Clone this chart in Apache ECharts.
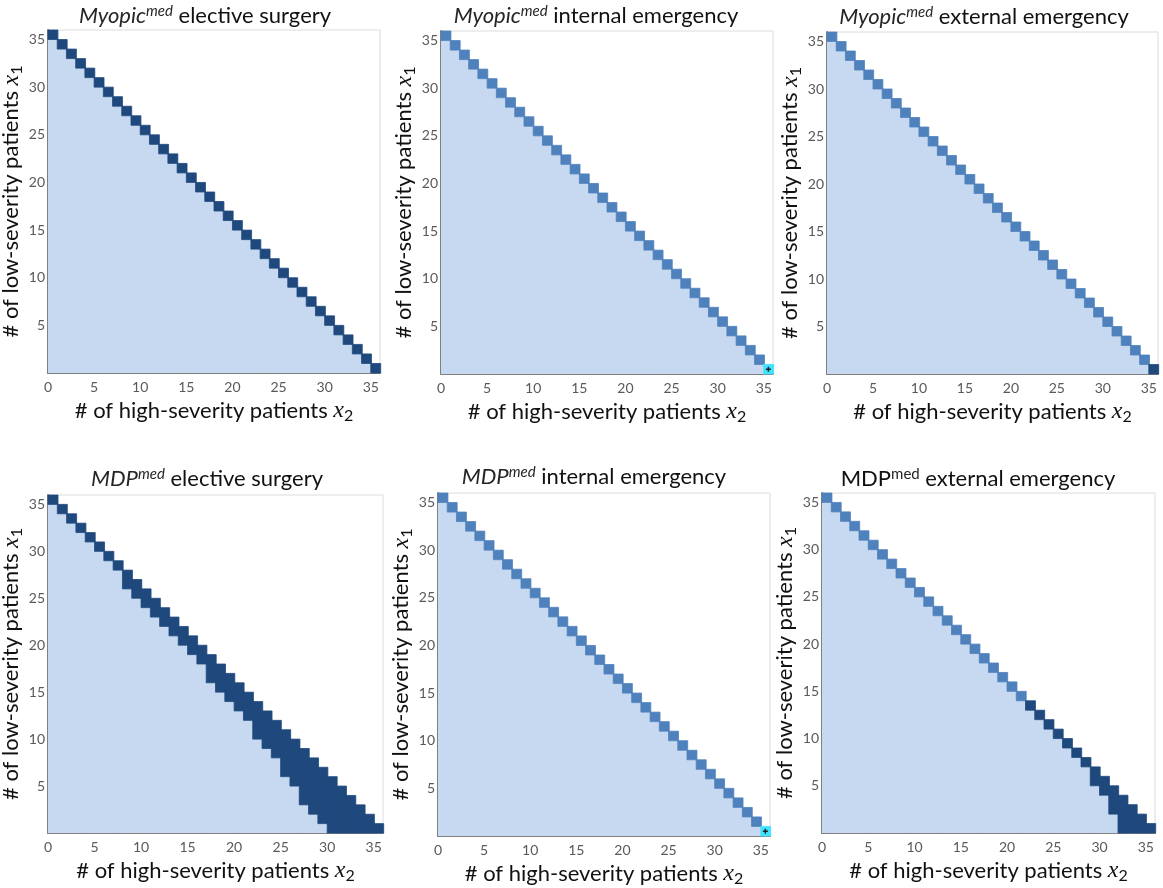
<!DOCTYPE html>
<html><head><meta charset="utf-8">
<script src="https://cdn.jsdelivr.net/npm/echarts@6/dist/echarts.min.js"></script>
<style>html,body{margin:0;padding:0;background:#fff}#chart{width:1163px;height:888px}</style>
</head><body><div id="chart"></div>
<script>
// ---------------- data ----------------
const x2Values = [0,1,2,3,4,5,6,7,8,9,10,11,12,13,14,15,16,17,18,19,20,21,22,23,24,25,26,27,28,29,30,31,32,33,34,35];
const xTickLabels = [0,5,10,15,20,25,30,35];
const yTickLabels = [5,10,15,20,25,30,35];

// lowest x1 index of the coloured (action) band in each x2 column; the band always reaches x1 = 35 - x2
const bandLowDiagonal   = [35,34,33,32,31,30,29,28,27,26,25,24,23,22,21,20,19,18,17,16,15,14,13,12,11,10,9,8,7,6,5,4,3,2,1,0];
const bandLowMdpElective= [35,34,33,32,31,30,29,28,26,25,24,23,22,21,20,19,18,16,15,14,13,12,10,9,8,6,5,3,2,1,0,0,0,0,0,0];
const bandLowMdpExternal= [35,34,33,32,31,30,29,28,27,26,25,24,23,22,21,20,19,18,17,16,15,14,13,12,11,10,9,8,7,5,4,2,0,0,0,0];

// action code of the band in each column: 1 = medium blue, 2 = dark blue, 3 = cyan (marked)
const codeAllDark      = [2,2,2,2,2,2,2,2,2,2,2,2,2,2,2,2,2,2,2,2,2,2,2,2,2,2,2,2,2,2,2,2,2,2,2,2];
const codeInternal     = [1,1,1,1,1,1,1,1,1,1,1,1,1,1,1,1,1,1,1,1,1,1,1,1,1,1,1,1,1,1,1,1,1,1,1,3];
const codeMyopicExt    = [1,1,1,1,1,1,1,1,1,1,1,1,1,1,1,1,1,1,1,1,1,1,1,1,1,1,1,1,1,1,1,1,1,1,1,2];
const codeMdpExternal  = [1,1,1,1,1,1,1,1,1,1,1,1,1,1,1,1,1,1,1,1,1,1,2,2,2,2,2,2,2,2,2,2,2,2,2,2];

const panelTitles = [
  '{it|Myopic}{sup|med}{n| elective surgery}',
  '{it|Myopic}{sup|med}{n| internal emergency}',
  '{it|Myopic}{sup|med}{n| external emergency}',
  '{it|MDP}{sup|med}{n| elective surgery}',
  '{it|MDP}{sup|med}{n| internal emergency}',
  '{n|MDP}{supn|med}{n| external emergency}'
];
const panelBandLow = [bandLowDiagonal, bandLowDiagonal, bandLowDiagonal, bandLowMdpElective, bandLowDiagonal, bandLowMdpExternal];
const panelCodes   = [codeAllDark, codeInternal, codeMyopicExt, codeAllDark, codeInternal, codeMdpExternal];
const xAxisName = '{t|# of high-severity patients }{mx|x}{sub|2}';
const yAxisName = '{t|# of low-severity patients }{mx|x}{sub|1}';

// ---------------- layout / style ----------------
const grids = [
  {left: 48,  top: 30,  width: 332, height: 343},
  {left: 441, top: 31,  width: 332, height: 343},
  {left: 827, top: 32,  width: 331, height: 342},
  {left: 48,  top: 495, width: 335, height: 338},
  {left: 438, top: 493, width: 332, height: 343},
  {left: 822, top: 493, width: 333, height: 340}
];
const titlePos = [[205,4],[596,4],[984,5],[207,467],[594,465],[978,467]];
const palette = ['#c6d9f0', '#4f81bd', '#1f497d', '#3fe3ff'];
const FONT = 'Lato';
const MATH = 'Liberation Serif';

const titleRich = {
  n:   {fontFamily: FONT, fontSize: 22, fontWeight: 'normal', color: '#111'},
  it:  {fontFamily: FONT, fontSize: 22, fontWeight: 'normal', fontStyle: 'italic', color: '#262626'},
  sup: {fontFamily: FONT, fontSize: 15, fontWeight: 'normal', fontStyle: 'italic', color: '#262626', padding: [0,0,9,0]},
  supn:{fontFamily: FONT, fontSize: 15, fontWeight: 'normal', color: '#262626', padding: [0,0,9,0]}
};
const nameRich = {
  t:  {fontFamily: FONT, fontSize: 22, fontWeight: 'normal', color: '#111'},
  mx: {fontFamily: MATH, fontSize: 24, fontWeight: 'normal', fontStyle: 'italic', color: '#111'},
  sub:{fontFamily: FONT, fontSize: 16, fontWeight: 'normal', color: '#111', padding: [11,0,0,0]}
};

function renderCells(params, api) {
  const j = api.value(0), lo = api.value(1), hi = api.value(2), code = api.value(3);
  if (hi <= lo) return null;
  const tl = api.coord([j, hi]);
  const br = api.coord([j + 1, lo]);
  const w = br[0] - tl[0], h = br[1] - tl[1];
  const style = code === 0
    ? {fill: palette[code]}
    : {fill: palette[code], stroke: palette[code], lineWidth: 0.8};
  const rect = {type: 'rect', shape: {x: tl[0], y: tl[1], width: w + 0.7, height: h}, style: style};
  if (code !== 3) return rect;
  const cx = tl[0] + w / 2, cy = tl[1] + h / 2;
  return {type: 'group', children: [
    rect,
    {type: 'rect', shape: {x: cx - 2.5, y: cy - 0.75, width: 5, height: 1.5}, style: {fill: '#222'}},
    {type: 'rect', shape: {x: cx - 0.75, y: cy - 2.5, width: 1.5, height: 5}, style: {fill: '#222'}}
  ]};
}

const option = {
  backgroundColor: '#ffffff',
  animation: false,
  title: [], grid: [], xAxis: [], yAxis: [], series: []
};

for (let k = 0; k < 6; k++) {
  option.title.push({
    text: panelTitles[k], left: titlePos[k][0], top: titlePos[k][1], textAlign: 'center', padding: 0,
    textStyle: {rich: titleRich, fontFamily: FONT, fontSize: 22, fontWeight: 'normal'}
  });
  option.grid.push(Object.assign({show: true, borderColor: '#dcdcdc', borderWidth: 1, backgroundColor: 'rgba(0,0,0,0)', containLabel: false, outerBoundsMode: 'none'}, grids[k]));
  option.xAxis.push({
    type: 'value', gridIndex: k, min: 0, max: 36, interval: 5,
    axisLine: {show: true, onZero: false, lineStyle: {color: '#808080', width: 2}},
    axisTick: {show: false}, splitLine: {show: false},
    axisLabel: {color: '#595959', fontSize: 14, fontFamily: FONT, margin: 7, showMaxLabel: false,
      formatter: v => xTickLabels.includes(v) ? String(v) : ''},
    name: xAxisName, nameLocation: 'middle', nameGap: 24,
    nameTextStyle: {rich: nameRich, fontFamily: FONT, fontSize: 22, color: '#111'}
  });
  option.yAxis.push({
    type: 'value', gridIndex: k, min: 0, max: 36, interval: 5,
    axisLine: {show: true, onZero: false, lineStyle: {color: '#808080', width: 2}},
    axisTick: {show: false}, splitLine: {show: false},
    axisLabel: {color: '#595959', fontSize: 14, fontFamily: FONT, margin: 3, showMinLabel: false, showMaxLabel: false,
      formatter: v => yTickLabels.includes(v) ? String(v) : ''},
    name: yAxisName, nameLocation: 'middle', nameGap: 14,
    nameTextStyle: {rich: nameRich, fontFamily: FONT, fontSize: 22, color: '#111'}
  });
  const data = [];
  x2Values.forEach((x2, j) => {
    data.push([x2, 0, panelBandLow[k][j], 0]);
  });
  x2Values.forEach((x2, j) => {
    data.push([x2, panelBandLow[k][j], 36 - x2, panelCodes[k][j]]);
  });
  option.series.push({
    type: 'custom', xAxisIndex: k, yAxisIndex: k, renderItem: renderCells,
    encode: {x: 0, y: [1, 2]}, data: data, silent: true
  });
}

const chart = echarts.init(document.getElementById('chart'), null, {renderer: 'canvas'});
chart.setOption(option);
</script></body></html>
